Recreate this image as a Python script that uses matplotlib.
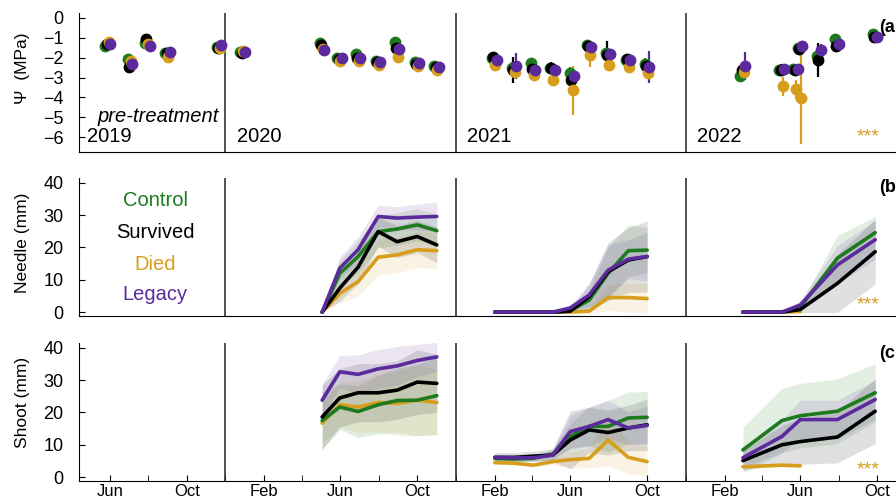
import numpy as np
import matplotlib.pyplot as plt
import matplotlib.dates as mdates

plt.rcParams['font.family'] = ['Liberation Sans', 'DejaVu Sans']

groups = ['Control', 'Survived', 'Died', 'Legacy']
colors = {'Control': '#1e7a1e', 'Survived': '#000000', 'Died': '#d69e1c', 'Legacy': '#5b2a9c'}

# --- panel (a): water potential, MPa ---
psi_dates = ['2019-05-29', '2019-07-03', '2019-07-31', '2019-09-01', '2019-11-22', '2019-12-29',
             '2020-05-03', '2020-05-31', '2020-06-29', '2020-07-31', '2020-08-30', '2020-10-01', '2020-11-01',
             '2021-02-01', '2021-03-04', '2021-04-03', '2021-05-04', '2021-06-04', '2021-07-01', '2021-07-31',
             '2021-09-01', '2021-10-01',
             '2022-03-02', '2022-05-03', '2022-05-25', '2022-06-01', '2022-07-01', '2022-07-30', '2022-09-28']
psi_control = [-1.4, -2.05, -1.25, -1.75, -1.45, -1.7,
               -1.25, -2.0, -1.8, -2.15, -1.2, -2.2, -2.4,
               -2.0, -2.5, -2.25, -2.5, -2.75, -1.35, -1.75, -2.1, -2.3,
               -2.9, -2.6, -2.55, -1.5, -1.9, -1.05, -0.8]
psi_survived = [-1.3, -2.45, -1.05, -1.75, -1.5, -1.75,
                -1.35, -2.05, -2.0, -2.2, -1.5, -2.3, -2.45,
                -1.95, -2.6, -2.55, -2.5, -3.1, -1.4, -1.85, -2.05, -2.4,
                -2.6, -2.6, -2.6, -1.55, -2.1, -1.4, -0.95]
psi_died = [-1.2, -2.15, -1.3, -1.95, -1.5, -1.65,
            -1.55, -2.15, -2.15, -2.35, -1.95, -2.4, -2.6,
            -2.35, -2.7, -2.85, -3.1, -3.65, -1.85, -2.35, -2.45, -2.75,
            -2.7, -3.45, -3.6, -4.05, np.nan, np.nan, np.nan]
psi_legacy = [-1.3, -2.3, -1.4, -1.7, -1.35, -1.7,
              -1.6, -2.0, -2.0, -2.2, -1.55, -2.25, -2.45,
              -2.1, -2.4, -2.6, -2.6, -2.9, -1.45, -1.8, -2.1, -2.45,
              -2.4, -2.55, -2.55, -1.4, -1.6, -1.3, -0.95]
psi_err_control = [0.15, 0.2, 0.1, 0.15, 0.1, 0.1, 0.15, 0.1, 0.15, 0.15, 0.15, 0.1, 0.1,
                   0.15, 0.3, 0.2, 0.2, 0.3, 0.2, 0.25, 0.2, 0.3,
                   0.3, 0.25, 0.2, 0.25, 0.3, 0.25, 0.1]
psi_err_survived = [0.1, 0.25, 0.15, 0.15, 0.1, 0.1, 0.15, 0.1, 0.1, 0.1, 0.15, 0.1, 0.1,
                    0.15, 0.65, 0.2, 0.3, 0.35, 0.2, 0.7, 0.2, 0.3,
                    0.3, 0.3, 0.3, 0.3, 0.85, 0.3, 0.1]
psi_err_died = [0.2, 0.2, 0.1, 0.2, 0.1, 0.2, 0.1, 0.15, 0.15, 0.2, 0.15, 0.15, 0.15,
                0.15, 0.3, 0.2, 0.3, 1.25, 0.6, 0.3, 0.2, 0.25,
                0.3, 0.5, 0.5, 2.3, np.nan, np.nan, np.nan]
psi_err_legacy = [0.1, 0.15, 0.1, 0.1, 0.1, 0.1, 0.1, 0.1, 0.1, 0.1, 0.1, 0.1, 0.1,
                  0.1, 0.65, 0.1, 0.2, 0.3, 0.15, 0.2, 0.2, 0.8,
                  0.7, 0.2, 0.2, 0.25, 0.3, 0.2, 0.1]

# --- panels (b) and (c): needle and shoot growth, mm (mean and band half-width) ---
growth_dates = ['2020-05-03', '2020-05-31', '2020-06-29', '2020-07-31', '2020-08-30', '2020-10-01', '2020-11-01',
                '2021-02-01', '2021-03-04', '2021-04-03', '2021-05-04', '2021-06-01', '2021-07-01', '2021-07-31',
                '2021-09-01', '2021-10-01',
                '2022-03-02', '2022-05-03', '2022-06-01', '2022-07-30', '2022-09-28']
needle_control = [0, 12.0, 17.2, 24.9, 25.7, 27.0, 25.2, 0, 0, 0, 0, 0.5, 3.7, 12.0, 19.0, 19.2, 0, 0, 1.5, 16.7, 24.6]
needle_survived = [0, 7.4, 13.9, 24.9, 21.8, 23.4, 20.8, 0, 0, 0, 0, 0.3, 4.8, 12.5, 16.1, 17.2, 0, 0, 0.8, 8.9, 18.7]
needle_died = [0, 5.8, 9.4, 17.0, 17.7, 19.3, 19.0, 0, 0, 0, 0, 0, 0.3, 4.5, 4.5, 4.2, 0, 0, 0.2, np.nan, np.nan]
needle_legacy = [0, 13.6, 19.3, 29.6, 29.1, 29.4, 29.6, 0, 0, 0, 0, 1.3, 5.3, 13.0, 16.4, 17.2, 0, 0, 2.2, 14.6, 22.4]
needle_se_control = [0, 4, 5, 5, 5, 5, 5, 0, 0, 0, 0, 0.5, 3, 8, 8, 7, 0, 0, 1, 7, 5]
needle_se_survived = [0, 4, 5, 4.5, 5, 5, 5.5, 0, 0, 0, 0, 0.5, 4, 9, 10, 11, 0, 0, 1, 9, 10]
needle_se_died = [0, 3, 4.5, 5.5, 5.5, 5.5, 5.5, 0, 0, 0, 0, 0, 1, 4, 4.5, 4.7, 0, 0, 0.3, np.nan, np.nan]
needle_se_legacy = [0, 3.5, 4, 3.5, 3.5, 4, 4.5, 0, 0, 0, 0, 0.8, 3.5, 8, 6, 7.5, 0, 0, 1.5, 6, 6]

shoot_control = [17.5, 21.7, 20.3, 22.4, 23.7, 23.8, 25.2, 5.8, 5.6, 5.8, 7.1, 12.6, 15.7, 15.7, 18.3, 18.5,
                 8.4, 17.5, 19.0, 20.4, 26.1]
shoot_survived = [18.6, 24.5, 26.1, 26.1, 26.9, 29.4, 29.0, 6.1, 6.1, 6.5, 6.8, 11.5, 14.6, 13.8, 15.2, 16.2,
                  5.1, 10.0, 11.0, 12.4, 20.4]
shoot_died = [16.7, 22.4, 21.7, 23.1, 22.8, 23.8, 23.1, 4.5, 4.3, 3.7, 4.8, 5.4, 5.8, 11.5, 6.1, 4.8,
              3.2, 3.7, 3.5, np.nan, np.nan]
shoot_legacy = [23.8, 32.6, 31.8, 33.5, 34.4, 36.1, 37.2, 6.1, 6.0, 6.0, 6.8, 14.1, 15.7, 17.8, 15.2, 16.0,
                6.0, 12.6, 17.8, 17.8, 24.0]
shoot_se_control = [9, 7, 8, 9, 10, 11, 12, 1, 1, 1, 1.5, 4, 6, 8, 8, 8, 7, 10, 10, 10, 9]
shoot_se_survived = [10, 9, 9, 9, 9, 10, 9, 1.5, 1.5, 1.5, 2, 9, 7, 7, 7, 8, 3, 6, 7, 8, 10]
shoot_se_died = [6, 7, 8, 9, 10, 11, 10, 0.5, 0.5, 0.5, 1, 2.5, 3, 8, 5, 4.5, 0.5, 0.5, 0.5, np.nan, np.nan]
shoot_se_legacy = [5, 5, 6, 6, 6, 5, 4.5, 1, 1, 1, 1.5, 5, 6, 6, 5, 6, 3, 5, 6, 6, 6]

psi = {'Control': (psi_control, psi_err_control), 'Survived': (psi_survived, psi_err_survived),
       'Died': (psi_died, psi_err_died), 'Legacy': (psi_legacy, psi_err_legacy)}
needle = {'Control': (needle_control, needle_se_control), 'Survived': (needle_survived, needle_se_survived),
          'Died': (needle_died, needle_se_died), 'Legacy': (needle_legacy, needle_se_legacy)}
shoot = {'Control': (shoot_control, shoot_se_control), 'Survived': (shoot_survived, shoot_se_survived),
         'Died': (shoot_died, shoot_se_died), 'Legacy': (shoot_legacy, shoot_se_legacy)}

year_starts = ['2019-12-01', '2020-12-01', '2021-12-01']
year_labels = ['2019', '2020', '2021', '2022']

fig = plt.figure(figsize=(8.96, 5.0), dpi=100)
W, H = 896, 500
left = 79 / W
axa = fig.add_axes([left, 1 - 152 / H, 1 - left, 139 / H])
axb = fig.add_axes([left, 1 - 316 / H, 1 - left, 138 / H], sharex=axa)
axc = fig.add_axes([left, 1 - 481 / H, 1 - left, 138 / H], sharex=axa)

draw_order = ['Died', 'Control', 'Survived', 'Legacy']
dodge = {'Control': -4, 'Survived': -2, 'Died': 1, 'Legacy': 3}

d_psi = np.array(psi_dates, dtype='datetime64[D]')
for g in ['Control', 'Survived', 'Died', 'Legacy']:
    v, e = psi[g]
    axa.errorbar(d_psi + np.timedelta64(dodge[g], 'D'), v, yerr=e, fmt='o', color=colors[g],
                 ms=7.5, elinewidth=1.6, capsize=0, zorder=3)

d_gr = np.array(growth_dates, dtype='datetime64[D]')
yrs = d_gr.astype('datetime64[Y]').astype(int) + 1970
for ax, data in [(axb, needle), (axc, shoot)]:
    for g in draw_order:
        v, e = np.array(data[g][0], float), np.array(data[g][1], float)
        for yr in [2020, 2021, 2022]:
            m = yrs == yr
            ax.fill_between(d_gr[m], v[m] - e[m], v[m] + e[m], color=colors[g], alpha=0.12, lw=0)
            ax.plot(d_gr[m], v[m], color=colors[g], lw=2.6, solid_capstyle='round', zorder=3)

axa.set_ylim(-6.75, 0.25)
axa.set_yticks(range(-6, 1))
for ax in (axb, axc):
    ax.set_ylim(-1.2, 41.5)
    ax.set_yticks([0, 10, 20, 30, 40])

axa.set_xlim(np.datetime64('2019-04-13'), np.datetime64('2022-10-31'))
axc.xaxis.set_major_locator(mdates.MonthLocator(bymonth=[2, 6, 10]))
axc.xaxis.set_major_formatter(mdates.DateFormatter('%b'))
axc.xaxis.set_minor_locator(mdates.MonthLocator(bymonth=[4, 8, 12]))

for ax in (axa, axb, axc):
    ax.spines['top'].set_visible(False)
    ax.spines['right'].set_visible(False)
    ax.tick_params(axis='both', which='both', direction='in', length=4)
    ax.tick_params(axis='y', pad=11, labelsize=13)
    ax.tick_params(axis='x', pad=2, labelsize=12)
    for ys in year_starts:
        ax.axvline(np.datetime64(ys), color='#222222', lw=1.1)

for ax in (axa, axb):
    ax.tick_params(axis='x', which='both', bottom=False, labelbottom=False)

axa.set_ylabel('\u03a8  (MPa)', fontsize=12.5)
axb.set_ylabel('Needle (mm)', fontsize=12.5)
axc.set_ylabel('Shoot (mm)', fontsize=12.5)
axa.yaxis.set_label_coords(-0.060, 0.6)
axb.yaxis.set_label_coords(-0.060, 0.53)
axc.yaxis.set_label_coords(-0.060, 0.57)

# year labels and pre-treatment note
for x0, lab in zip([87, 237, 467, 697], year_labels):
    fig.text(x0 / W, 1 - 137 / H, lab, fontsize=14.5, va='center', ha='left')
fig.text(97 / W, 1 - 116 / H, 'pre-treatment', fontsize=14.5, style='italic', va='center', ha='left')

# legend as coloured text
for y0, g in zip([200, 232, 264, 294], groups):
    fig.text(155 / W, 1 - y0 / H, g, color=colors[g], fontsize=14.5, ha='center', va='center')

# panel letters (cut at the right edge as in the source) and significance stars
for y0, lab in zip([27, 187, 354], ['(a', '(b', '(c']):
    fig.text(879 / W, 1 - y0 / H, lab, fontsize=13, fontweight='bold', ha='left', va='center')
for y0 in [137, 305, 470]:
    fig.text(868 / W, 1 - y0 / H, '***', fontsize=14, color=colors['Died'], ha='center', va='center')

fig.savefig('out.png', dpi=100)
